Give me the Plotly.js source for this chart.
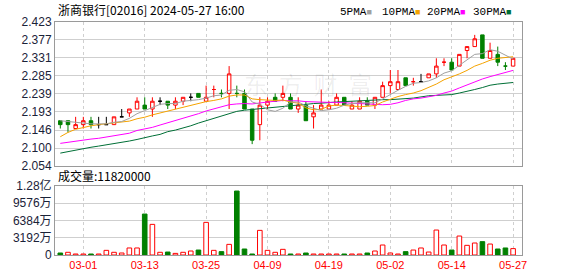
<!DOCTYPE html>
<html><head><meta charset="utf-8">
<script src="https://cdn.plot.ly/plotly-3.0.1.min.js"></script>
<style>html,body{margin:0;padding:0;background:#fff}#chart{width:578px;height:276px}</style>
</head><body><div id="chart"></div>
<script>
// ---- data ----
const dates = ["02-27","02-28","02-29","03-01","03-04","03-05","03-06","03-07","03-08","03-11",
 "03-12","03-13","03-14","03-15","03-18","03-19","03-20","03-21","03-22","03-25",
 "03-26","03-27","03-28","04-02","04-03","04-05","04-08","04-09","04-10","04-11",
 "04-12","04-15","04-16","04-17","04-18","04-19","04-22","04-23","04-24","04-25",
 "04-26","04-29","04-30","05-02","05-03","05-06","05-07","05-08","05-09","05-10",
 "05-13","05-14","05-16","05-17","05-20","05-21","05-22","05-23","05-24","05-27"];
const open  = [2.17,2.17,2.15,2.16,2.17,2.16,2.16,2.16,2.18,2.19, 2.20,2.21,2.20,2.22,2.22,2.21,2.22,2.23,2.24,2.22,
 2.25,2.24,2.24,2.24,2.24,2.20,2.16,2.21,2.23,2.23, 2.23,2.20,2.21,2.18,2.20,2.20,2.21,2.23,2.20,2.20,
 2.22,2.21,2.23,2.26,2.25,2.28,2.27,2.27,2.28,2.29, 2.32,2.32,2.31,2.35,2.36,2.39,2.33,2.34,2.31,2.31];
const high  = [2.17,2.17,2.18,2.18,2.18,2.18,2.18,2.18,2.20,2.20, 2.23,2.23,2.23,2.23,2.22,2.23,2.23,2.24,2.24,2.26,
 2.26,2.25,2.31,2.26,2.25,2.20,2.23,2.23,2.24,2.26, 2.24,2.23,2.22,2.21,2.25,2.22,2.24,2.23,2.22,2.23,
 2.23,2.23,2.27,2.30,2.30,2.28,2.28,2.29,2.29,2.33, 2.33,2.33,2.34,2.36,2.39,2.39,2.37,2.36,2.32,2.33];
const low   = [2.15,2.14,2.15,2.15,2.15,2.15,2.16,2.16,2.18,2.18, 2.20,2.20,2.18,2.21,2.20,2.20,2.21,2.22,2.23,2.22,
 2.23,2.23,2.20,2.23,2.20,2.11,2.12,2.20,2.22,2.22, 2.20,2.19,2.17,2.15,2.20,2.20,2.21,2.21,2.20,2.20,
 2.21,2.20,2.23,2.24,2.25,2.26,2.26,2.27,2.28,2.28, 2.31,2.30,2.31,2.33,2.36,2.33,2.33,2.31,2.30,2.31];
const close = [2.16,2.16,2.16,2.17,2.16,2.16,2.16,2.18,2.18,2.20, 2.22,2.20,2.22,2.22,2.21,2.22,2.23,2.23,2.23,2.23,
 2.25,2.24,2.29,2.24,2.20,2.12,2.21,2.22,2.22,2.24, 2.20,2.21,2.17,2.19,2.21,2.21,2.23,2.21,2.21,2.22,
 2.21,2.23,2.26,2.27,2.27,2.26,2.27,2.27,2.29,2.31, 2.32,2.30,2.34,2.36,2.38,2.33,2.35,2.32,2.31,2.33];
const ma5  = [2.170,2.168,2.166,2.165,2.162,2.162,2.162,2.166,2.168,2.176, 2.188,2.196,2.204,2.212,2.214,2.214,2.220,2.222,2.224,2.228,
 2.234,2.236,2.248,2.250,2.244,2.218,2.212,2.198,2.194,2.202, 2.218,2.218,2.208,2.202,2.196,2.198,2.202,2.210,2.214,2.216,
 2.216,2.216,2.226,2.238,2.248,2.258,2.266,2.268,2.272,2.280, 2.292,2.298,2.312,2.326,2.340,2.342,2.352,2.348,2.338,2.328];
const ma10 = [2.129,2.140,2.148,2.153,2.157,2.160,2.162,2.164,2.166,2.169, 2.175,2.179,2.185,2.190,2.195,2.200,2.205,2.210,2.215,2.219,
 2.222,2.226,2.233,2.236,2.236,2.226,2.224,2.223,2.222,2.223, 2.218,2.215,2.203,2.198,2.199,2.208,2.210,2.209,2.208,2.206,
 2.207,2.209,2.218,2.226,2.232,2.237,2.241,2.247,2.255,2.264, 2.275,2.282,2.290,2.299,2.310,2.317,2.325,2.330,2.332,2.334];
const ma20 = [2.112,2.115,2.118,2.121,2.123,2.125,2.128,2.131,2.134,2.138, 2.145,2.149,2.153,2.159,2.165,2.170,2.175,2.181,2.188,2.195,
 2.201,2.207,2.211,2.213,2.214,2.213,2.216,2.218,2.220,2.222, 2.221,2.221,2.219,2.218,2.217,2.217,2.217,2.216,2.215,2.214,
 2.213,2.212,2.211,2.212,2.216,2.222,2.226,2.228,2.232,2.235, 2.241,2.246,2.254,2.262,2.271,2.277,2.283,2.288,2.294,2.299];
const ma30 = [2.087,2.091,2.095,2.099,2.102,2.105,2.108,2.111,2.114,2.118, 2.122,2.127,2.131,2.135,2.142,2.146,2.151,2.157,2.164,2.170,
 2.176,2.182,2.188,2.194,2.197,2.199,2.201,2.202,2.204,2.206, 2.208,2.210,2.212,2.214,2.215,2.217,2.218,2.219,2.220,2.222,
 2.223,2.224,2.224,2.224,2.225,2.226,2.228,2.231,2.234,2.235, 2.236,2.237,2.241,2.245,2.250,2.255,2.261,2.264,2.266,2.268];
const volume = [3700000,5000000,1850000,1850000,1850000,1850000,8600000,5000000,3700000,13000000,
 13000000,75800000,56700000,5000000,5500000,3000000,5000000,7400000,9200000,60400000,
 8600000,6200000,19700000,118400000,11100000,1850000,45600000,8600000,5000000,10500000,
 1850000,1850000,3700000,1850000,1850000,1850000,1850000,1850000,1850000,1850000,
 3700000,7400000,18500000,3700000,1850000,6200000,9200000,13000000,5500000,46200000,
 18500000,9200000,35100000,17900000,22200000,24700000,20300000,11100000,13000000,11820000];
const volumeUp = [0,1,1,1,0,1,1,1,1,1, 1,0,1,1,0,1,1,1,0,1, 1,0,1,0,0,0,1,1,1,1,
 0,1,0,1,1,1,1,0,1,1, 0,1,1,1,1,0,1,1,1,1, 1,0,1,1,1,0,1,0,0,1];
const priceTickLabels = ["2.054","2.100","2.146","2.193","2.239","2.285","2.331","2.377","2.423"];
const volTickVals = [0,31920000,63840000,95760000,127680000];
const volTickLabels = ["0","3192万","6384万","9576万","1.28亿"];
const dateTickLabels = ["03-01","03-13","03-25","04-09","04-19","05-02","05-14","05-27"];
const stockTitle = "浙商银行[02016] 2024-05-27 16:00";
const lastVolumeText = "成交量:11820000";
const maNames = ["5PMA","10PMA","20PMA","30PMA"];

// ---- styling ----
const RED = "#ff0000", GREEN = "#008000", BLACK = "#000000";
const maColors = ["#a0a0a0","#f5a300","#ff00ff","#006f36"];
const idx = dates.map((d,i)=>i);

const cls = close.map((c,i)=>{
  if (c > open[i]) return "up";
  if (c < open[i]) return "down";
  const p = i > 0 ? close[i-1] : c;
  return c > p ? "dojiUp" : (c < p ? "dojiDown" : "dojiFlat");
});
function candle(kind, incC, incF, decC, decF){
  const ids = idx.filter(i=>cls[i]===kind);
  return {type:"candlestick", x:ids, open:ids.map(i=>open[i]), high:ids.map(i=>high[i]),
    low:ids.map(i=>low[i]), close:ids.map(i=>close[i]), xaxis:"x", yaxis:"y",
    increasing:{line:{color:incC,width:1},fillcolor:incF},
    decreasing:{line:{color:decC,width:1},fillcolor:decF},
    whiskerwidth:0, hoverinfo:"skip", showlegend:false};
}
const traces = [];
[ma30, ma20, ma10, ma5].forEach((m,k)=>{
  traces.push({type:"scatter", mode:"lines", x:idx, y:m, xaxis:"x", yaxis:"y",
    line:{color:maColors[3-k], width:1}, hoverinfo:"skip", showlegend:false});
});
traces.push(candle("up", RED, "#ffffff", RED, "#ffffff"));
traces.push(candle("down", GREEN, GREEN, GREEN, GREEN));
traces.push(candle("dojiUp", RED, RED, RED, RED));
traces.push(candle("dojiDown", GREEN, GREEN, GREEN, GREEN));
traces.push(candle("dojiFlat", BLACK, BLACK, BLACK, BLACK));
traces.push({type:"bar", x:idx, y:volume, xaxis:"x", yaxis:"y2", width:0.6,
  marker:{color:volumeUp.map(u=>u?"#ffffff":GREEN), line:{color:volumeUp.map(u=>u?RED:GREEN), width:1}},
  hoverinfo:"skip", showlegend:false});

const L = 55, W = 467;
const px = v => (v - L) / W;
const annotations = [
  {text:stockTitle, xref:"paper", yref:"paper", x:px(56), y:1, xanchor:"left", yanchor:"bottom", yshift:2,
   showarrow:false, font:{family:"Noto Sans CJK SC", size:12, color:"#000"}},
  {text:lastVolumeText, xref:"paper", yref:"paper", x:px(56), y:0.296, xanchor:"left", yanchor:"bottom", yshift:0,
   showarrow:false, font:{family:"Noto Sans CJK SC", size:12, color:"#000"}},
  {text:"东  方  财  富", xref:"paper", yref:"paper", x:px(308), y:0.735, xanchor:"center", yanchor:"middle",
   showarrow:false, font:{family:"Noto Sans CJK SC", size:24, color:"rgba(0,0,0,0.07)"}}
];
const legendX = [338, 380, 425, 471];
maNames.forEach((n,k)=>{
  annotations.push({text:n+'<span style="color:'+maColors[k]+';font-size:9px">■</span>', xref:"paper", yref:"paper",
    x:px(legendX[k]), y:1, xanchor:"left", yanchor:"bottom", yshift:2, showarrow:false,
    font:{family:"Liberation Mono", size:11, color:"#000"}});
});

const tickFont = {family:"Liberation Sans, Noto Sans CJK SC", size:12, color:"#1a2238"};
const layout = {
  width:578, height:276, margin:{l:55, r:56, t:22, b:21, pad:0},
  paper_bgcolor:"#ffffff", plot_bgcolor:"#ffffff", showlegend:false, boxgap:0.35,
  bargap:0.4, hovermode:false, annotations,
  xaxis:{range:[-0.69,60.16], anchor:"y2", tickmode:"array",
    tickvals:dateTickLabels.map(d=>dates.indexOf(d)), ticktext:dateTickLabels,
    tickfont:{family:"Liberation Sans", size:11, color:RED}, ticks:"", showgrid:true,
    gridcolor:"#cfcfcf", gridwidth:1, griddash:"3px,3px", showline:true, linecolor:"#9a9a9a",
    linewidth:1, mirror:"all", zeroline:false, rangeslider:{visible:false}, fixedrange:true},
  yaxis:{domain:[0.382,1], range:[2.054,2.423], tickmode:"array",
    tickvals:priceTickLabels.map(Number), ticktext:priceTickLabels, tickfont:tickFont, ticks:"",
    showgrid:true, gridcolor:"#cfcfcf", gridwidth:1, showline:true, linecolor:"#9a9a9a",
    mirror:true, zeroline:false, fixedrange:true},
  yaxis2:{domain:[0,0.296], range:[0,127680000], tickmode:"array", tickvals:volTickVals,
    ticktext:volTickLabels, tickfont:tickFont, ticks:"", showgrid:true, gridcolor:"#cfcfcf",
    gridwidth:1, showline:true, linecolor:"#9a9a9a", mirror:true, zeroline:false, fixedrange:true}
};
Plotly.newPlot("chart", traces, layout, {staticPlot:true, displayModeBar:false});
</script>
</body></html>
